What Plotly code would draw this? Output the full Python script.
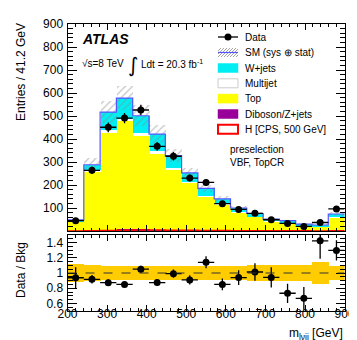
import numpy as np
import plotly.graph_objects as go

# ---------------- data ----------------
bin_edges = [200.0, 241.2, 282.4, 323.5, 364.7, 405.9, 447.1, 488.2, 529.4,
             570.6, 611.8, 652.9, 694.1, 735.3, 776.5, 817.6, 858.8, 900.0]
diboson  = [2, 4, 6, 8, 7, 6, 5, 4, 3, 3, 2, 2, 1, 1, 1, 1, 2]
top      = [40, 256, 423, 472, 409, 333, 263, 205, 148, 114, 77, 60, 42, 35, 21, 19, 56]
multijet = [1, 4, 8, 9, 8, 7, 6, 4, 3, 2, 2, 1, 1, 1, 1, 1, 1]
wjets    = [5, 24, 80, 89, 77, 75, 54, 40, 31, 21, 19, 13, 8, 8, 7, 5, 15]
higgs    = [0.5, 1.5, 2.5, 3.5, 4, 4, 3.5, 3, 2.5, 2, 1.5, 1.2, 1, 0.8, 0.6, 0.5, 1]
data     = [45, 264, 451, 491, 526, 368, 325, 230, 211, 119, 94, 77, 49, 33, 20, 37, 96]
data_err = [6.7, 16.2, 21.2, 22.2, 22.9, 19.2, 18.0, 15.2, 14.5, 10.9, 9.7, 8.8, 7.0, 5.7, 4.5, 6.1, 9.8]
sm_rel_unc = [0.12, 0.10, 0.095, 0.09, 0.09, 0.09, 0.09, 0.09, 0.09, 0.09, 0.09, 0.10, 0.10, 0.11, 0.11, 0.15, 0.095]

x_tick_vals = [200, 300, 400, 500, 600, 700, 800, 900]
main_y_ticks = [100, 200, 300, 400, 500, 600, 700, 800, 900]
ratio_y_ticks = [0.6, 0.8, 1.0, 1.2, 1.4]
ratio_y_text = ["0.6", "0.8", "1", "1.2", "1.4"]

legend_labels = ["Data", "SM (sys \u2295 stat)", "W+jets", "Multijet", "Top",
                 "Diboson/Z+jets", "H [CPS, 500 GeV]"]

# ---------------- derived ----------------
edges = np.array(bin_edges)
centers = 0.5 * (edges[:-1] + edges[1:])
widths = np.diff(edges)
dib = np.array(diboson, float)
tp = np.array(top, float)
mj = np.array(multijet, float)
wj = np.array(wjets, float)
total = dib + tp + mj + wj
unc = total * np.array(sm_rel_unc)
dat = np.array(data, float)
derr = np.array(data_err, float)

W, H = 357, 340
def px(x):
    return x / W
def py(y):
    return 1 - y / H

FONT = "Liberation Sans, Arial, Helvetica, sans-serif"
CYAN = "#00EEF2"
YELLOW = "#FFFF00"
PURPLE = "#990099"
GOLD = "#FFCC00"
BLUE = "#5555FF"

fig = go.Figure()

def bar(y, base, color, xa="x", ya="y", **kw):
    fig.add_trace(go.Bar(x=centers, y=y, base=base, width=widths,
                         marker=dict(color=color, line=dict(width=0)),
                         xaxis=xa, yaxis=ya, hoverinfo="skip", **kw))

bar(dib, 0, PURPLE)
bar(tp, dib, YELLOW)
bar(mj, dib + tp, "white")
bar(wj, dib + tp + mj, CYAN)
# hatched uncertainty
fig.add_trace(go.Bar(x=centers, y=2 * unc, base=total - unc, width=widths,
                     marker=dict(color="rgba(0,0,0,0)", line=dict(width=0),
                                 pattern=dict(shape="/", fgcolor="#8a8a8a",
                                              bgcolor="rgba(0,0,0,0)", size=5,
                                              solidity=0.25, fillmode="overlay")),
                     xaxis="x", yaxis="y", hoverinfo="skip"))
# SM outline
fig.add_trace(go.Scatter(x=edges, y=np.append(total, total[-1]), mode="lines",
                         line=dict(color=BLUE, width=1.2, shape="hv"),
                         xaxis="x", yaxis="y", hoverinfo="skip"))
# Higgs signal
hg = np.array(higgs)
fig.add_trace(go.Scatter(x=edges, y=np.append(hg, hg[-1]), mode="lines",
                         line=dict(color="#FF0000", width=1.5, shape="hv"),
                         xaxis="x", yaxis="y", hoverinfo="skip"))
# data
fig.add_trace(go.Scatter(x=centers, y=dat, mode="markers",
                         marker=dict(color="black", size=7),
                         error_y=dict(type="data", array=derr, color="black", thickness=1.3, width=0),
                         error_x=dict(type="data", array=widths / 2, color="black", thickness=1.3, width=0),
                         xaxis="x", yaxis="y", hoverinfo="skip"))

# ratio panel
rel = np.array(sm_rel_unc)
fig.add_trace(go.Bar(x=centers, y=2 * rel, base=1 - rel, width=widths,
                     marker=dict(color=GOLD, line=dict(width=0)),
                     xaxis="x2", yaxis="y2", hoverinfo="skip"))
fig.add_trace(go.Scatter(x=centers, y=dat / total, mode="markers",
                         marker=dict(color="black", size=7),
                         error_y=dict(type="data", array=derr / total, color="black", thickness=1.3, width=0),
                         error_x=dict(type="data", array=widths / 2, color="black", thickness=1.3, width=0),
                         xaxis="x2", yaxis="y2", hoverinfo="skip"))

xdom = [px(59.5), px(336.6)]
axis_common = dict(showline=True, linecolor="black", linewidth=1, mirror="ticks",
                   ticks="inside", tickcolor="black", showgrid=False, zeroline=False,
                   automargin=False,
                   tickfont=dict(family=FONT, size=12, color="black"))

fig.update_layout(
    template="none",
    width=W, height=H, margin=dict(l=0, r=0, t=0, b=0, pad=0, autoexpand=False),
    paper_bgcolor="white", plot_bgcolor="white",
    showlegend=False, barmode="overlay", bargap=0,
    font=dict(family=FONT, color="black"),
    xaxis=dict(domain=xdom, anchor="y", range=[200, 900], tickvals=x_tick_vals,
               showticklabels=False, ticklen=6,
               minor=dict(ticks="inside", dtick=20, ticklen=3, tickcolor="black"),
               **axis_common),
    yaxis=dict(domain=[py(223), py(16)], anchor="x", range=[0, 900],
               tickvals=main_y_ticks, ticklen=9, ticklabelstandoff=1,
               minor=dict(ticks="inside", dtick=20, ticklen=5, tickcolor="black"),
               **axis_common),
    xaxis2=dict(domain=xdom, anchor="y2", range=[200, 900], matches="x",
                tickvals=x_tick_vals, ticklen=6, ticklabelstandoff=-8,
                minor=dict(ticks="inside", dtick=20, ticklen=3, tickcolor="black"),
                **axis_common),
    yaxis2=dict(domain=[py(303), py(227)], anchor="x2", range=[0.5, 1.5],
                tickvals=ratio_y_ticks, ticktext=ratio_y_text, ticklen=9,
                ticklabelstandoff=1,
                minor=dict(ticks="inside", dtick=0.05, ticklen=5, tickcolor="black"),
                **axis_common),
)

shapes = []
# dashed unity line in ratio
shapes.append(dict(type="line", xref="x2", yref="y2", x0=200, x1=900, y0=1, y1=1,
                   line=dict(color="#333333", width=1, dash="dash")))

# ---------------- manual legend ----------------
lx0, lx1 = 210, 230
rows = [29, 44.5, 60, 75.3, 90.6, 106, 121.3]
bh = 4.5
# Data
shapes.append(dict(type="line", xref="paper", yref="paper", x0=px(lx0), x1=px(lx1),
                   y0=py(rows[0]), y1=py(rows[0]), line=dict(color="black", width=1.3)))
shapes.append(dict(type="circle", xref="paper", yref="paper",
                   x0=px(216.5), x1=px(223.5), y0=py(rows[0] + 3.5), y1=py(rows[0] - 3.5),
                   fillcolor="black", line=dict(color="black", width=0)))
# SM hatch box
yt, yb = rows[1] - bh, rows[1] + bh
hh = yb - yt
for s in np.arange(lx0 - hh, lx1, 3.0):
    xa, ya_ = s, yb
    xb, yb_ = s + hh, yt
    if xa < lx0:
        ya_ = yb - (lx0 - xa)
        xa = lx0
    if xb > lx1:
        yb_ = yt + (xb - lx1)
        xb = lx1
    if xb > xa:
        shapes.append(dict(type="line", xref="paper", yref="paper", x0=px(xa), x1=px(xb),
                           y0=py(ya_), y1=py(yb_), line=dict(color="#8a8a8a", width=0.8)))
shapes.append(dict(type="line", xref="paper", yref="paper", x0=px(lx0), x1=px(lx1),
                   y0=py(rows[1]), y1=py(rows[1]), line=dict(color=BLUE, width=1.2)))
# filled boxes
box_styles = [(CYAN, CYAN, 0.5), ("white", "#cccccc", 1), (YELLOW, YELLOW, 0.5),
              (PURPLE, PURPLE, 0.5), ("white", "#FF0000", 2)]
for r, (fc, lc, lw) in zip(rows[2:], box_styles):
    shapes.append(dict(type="rect", xref="paper", yref="paper", x0=px(lx0), x1=px(lx1),
                       y0=py(r + bh), y1=py(r - bh), fillcolor=fc, line=dict(color=lc, width=lw)))

annotations = []
for r, lab in zip(rows, legend_labels):
    annotations.append(dict(xref="paper", yref="paper", x=px(235), y=py(r), text=lab,
                            showarrow=False, xanchor="left", yanchor="middle",
                            font=dict(family=FONT, size=10, color="black")))

annotations += [
    dict(xref="paper", yref="paper", x=px(72), y=py(31), text="<b><i>ATLAS</i></b>",
         showarrow=False, xanchor="left", yanchor="middle",
         font=dict(family=FONT, size=14, color="black")),
    dict(xref="paper", yref="paper", x=px(72), y=py(56), text="\u221as=8 TeV",
         showarrow=False, xanchor="left", yanchor="middle",
         font=dict(family=FONT, size=10, color="black")),
    dict(xref="paper", yref="paper", x=px(125), y=py(57), text="\u222b",
         showarrow=False, xanchor="center", yanchor="middle",
         font=dict(family="DejaVu Sans, sans-serif", size=20, color="black")),
    dict(xref="paper", yref="paper", x=px(131), y=py(56), text="Ldt = 20.3 fb<sup>-1</sup>",
         showarrow=False, xanchor="left", yanchor="middle",
         font=dict(family=FONT, size=10, color="black")),
    dict(xref="paper", yref="paper", x=px(220), y=py(141), text="preselection",
         showarrow=False, xanchor="left", yanchor="middle",
         font=dict(family=FONT, size=10, color="black")),
    dict(xref="paper", yref="paper", x=px(220), y=py(155), text="VBF, TopCR",
         showarrow=False, xanchor="left", yanchor="middle",
         font=dict(family=FONT, size=10, color="black")),
    dict(xref="paper", yref="paper", x=px(13), y=py(13), text="Entries / 41.2 GeV",
         textangle=-90, showarrow=False, xanchor="center", yanchor="top",
         font=dict(family=FONT, size=12, color="black")),
    dict(xref="paper", yref="paper", x=px(13), y=py(262), text="Data / Bkg",
         textangle=-90, showarrow=False, xanchor="center", yanchor="middle",
         font=dict(family=FONT, size=12, color="black")),
    dict(xref="paper", yref="paper", x=px(337), y=py(326), text="m<sub>l\u03bdjj</sub> [GeV]",
         showarrow=False, xanchor="right", yanchor="middle",
         font=dict(family=FONT, size=12, color="black")),
]

fig.update_layout(shapes=shapes, annotations=annotations)
fig.write_html("out.html")
